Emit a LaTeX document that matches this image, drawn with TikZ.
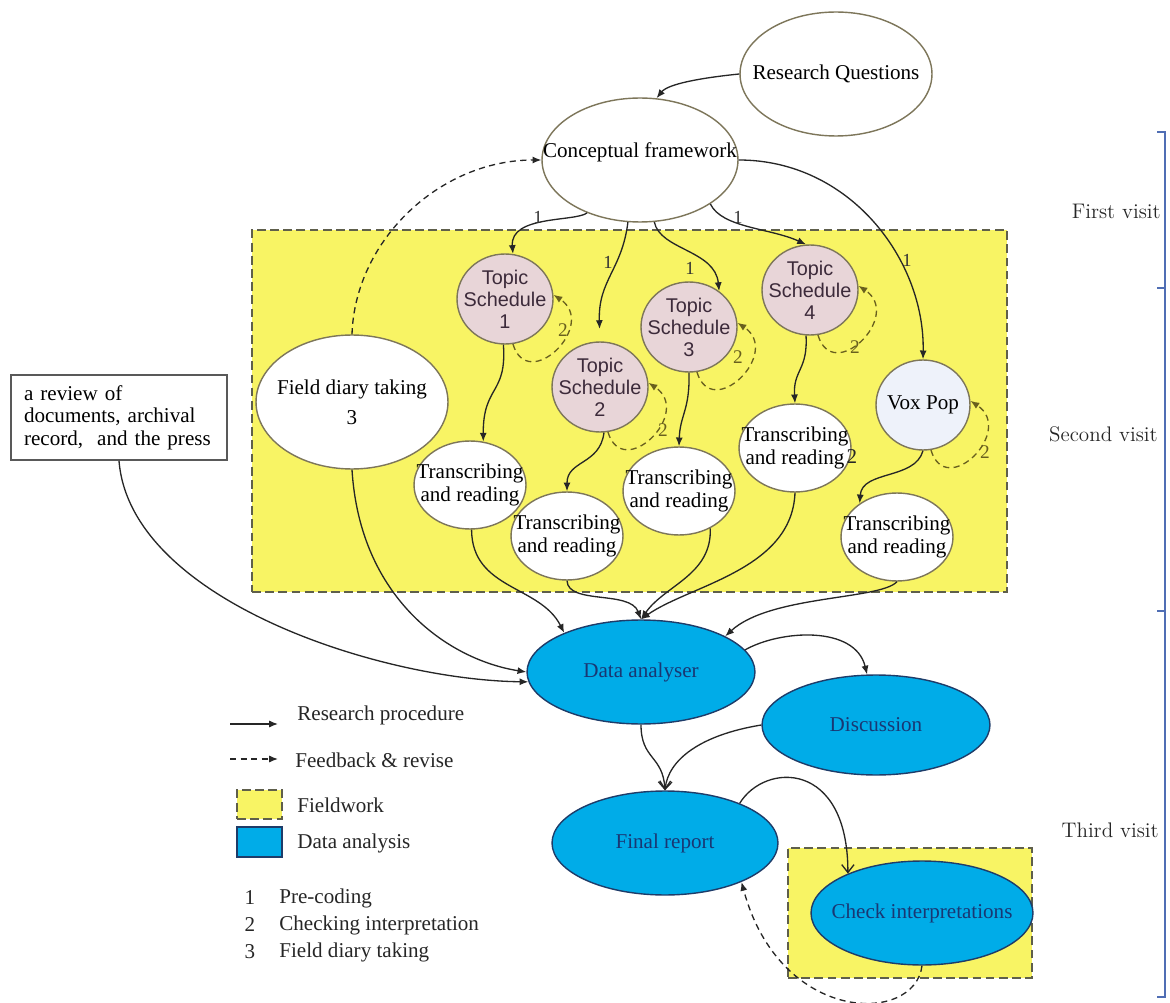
\documentclass[tikz,border=0pt]{standalone}
\usepackage{fontspec}
\newfontfamily\nodeserif{Liberation Serif}
\newfontfamily\nodesans{Liberation Sans}
\usetikzlibrary{arrows.meta,shapes.geometric}
\definecolor{rsedge}{RGB}{38,38,38}
\definecolor{rsrim}{RGB}{125,118,90}
\definecolor{rstopic}{RGB}{232,213,216}
\definecolor{rstopictxt}{RGB}{60,42,58}
\definecolor{rsvox}{RGB}{238,242,250}
\definecolor{rsfield}{RGB}{248,244,100}
\definecolor{rsfieldrim}{RGB}{95,95,75}
\definecolor{rsdata}{RGB}{0,172,232}
\definecolor{rsdatarim}{RGB}{30,60,105}
\definecolor{rsdatatxt}{RGB}{25,55,115}
\definecolor{rsloop}{RGB}{105,96,30}
\definecolor{rsvisit}{RGB}{80,110,180}
\tikzset{
  rsell/.style={
    ellipse, draw=rsrim, line width=0.8pt, inner sep=-20pt, align=center,
    font=\nodeserif\fontsize{12}{12.8}\selectfont
  },
  whiteell/.style={rsell, fill=white, minimum width=3.84cm, minimum height=2.48cm},
  topicell/.style={
    rsell, fill=rstopic, text=rstopictxt, minimum width=1.92cm, minimum height=1.8cm,
    font=\nodesans\fontsize{11.3}{12.5}\selectfont
  },
  voxell/.style={rsell, fill=rsvox, minimum width=1.88cm, minimum height=1.8cm},
  transell/.style={rsell, fill=white, minimum width=2.24cm, minimum height=1.76cm},
  dataell/.style={
    rsell, draw=rsdatarim, fill=rsdata, text=rsdatatxt,
    minimum width=4.56cm, minimum height=2.08cm
  },
  fieldbox/.style={draw=rsfieldrim, fill=rsfield, line width=1pt, dash pattern=on 5pt off 2.5pt},
  srcbox/.style={
    draw=black!65, fill=white, line width=0.9pt, align=left, text width=3.8cm,
    inner xsep=0.26cm, minimum height=1.7cm, font=\nodeserif\fontsize{12}{12.8}\selectfont
  },
  arr/.style={-{Latex[length=5pt,width=4pt]}, draw=rsedge, line width=0.75pt},
  fb/.style={arr, dash pattern=on 3.5pt off 2.5pt},
  barb/.style={-{Straight Barb[length=4.5pt,width=7pt]}, draw=rsedge, line width=0.75pt},
  loopback/.style={fb, draw=rsloop},
  onelbl/.style={font=\nodeserif\fontsize{10.5}{12}\selectfont, text=black!80, inner sep=1pt},
  twolbl/.style={onelbl, text=rsloop, font=\nodeserif\fontsize{11}{12}\selectfont},
  legtxt/.style={anchor=west, inner sep=0pt, font=\nodeserif\fontsize{12}{14}\selectfont, text=black!85},
  visit/.style={anchor=east, inner sep=0pt, font=\fontsize{12}{14}\selectfont, text=black!85},
  visitline/.style={draw=rsvisit, line width=1.2pt}
}
\begin{document}
\begin{tikzpicture}[x=0.02cm, y=-0.02cm]
  \path[use as bounding box, fill=white] (0,0) rectangle (1170,1003);
  % fieldwork areas
  \node[fieldbox, minimum width=15.1cm, minimum height=7.24cm] (field) at (629.5,411) {};
  \node[fieldbox, minimum width=4.88cm, minimum height=2.6cm] (checkfield) at (910,913) {};
  % first visit
  \node[whiteell] (rq) at (836,74) {Research Questions};
  \node[whiteell, minimum width=3.92cm, text height=8.5pt, text depth=11.5pt] (cf) at (640,160) {Conceptual framework};
  % second visit
  \node[whiteell, minimum height=2.68cm, text height=25.7pt] (fd) at (352,402) {Field diary taking\\[4.2pt]3};
  \node[topicell] (ts1) at (505,299) {Topic\\Schedule\\1};
  \node[topicell] (ts2) at (600,387) {Topic\\Schedule\\2};
  \node[topicell] (ts3) at (689,327) {Topic\\Schedule\\3};
  \node[topicell] (ts4) at (810,290) {Topic\\Schedule\\4};
  \node[voxell] (vp) at (923,405) {Vox Pop};
  \node[transell] (tr1) at (470,485) {Transcribing\\and reading};
  \node[transell] (tr2) at (567,536) {Transcribing\\and reading};
  \node[transell] (tr3) at (679,491) {Transcribing\\and reading};
  \node[transell] (tr4) at (795,448) {Transcribing\\and reading};
  \node[transell] (tr5) at (897,537) {Transcribing\\and reading};
  \node[onelbl, text=black!85, font=\nodeserif\fontsize{12}{12}\selectfont] (trstray) at (852,457) {2};
  \node[srcbox] (rev) at (119,417.5) {a review of\\documents, archival\\record,~ and the press};
  % third visit
  \node[dataell] (da) at (641,672) {Data analyser};
  \node[dataell, minimum height=2cm] (dis) at (876,725) {Discussion};
  \node[dataell, minimum width=4.52cm] (fr) at (665,843) {Final report};
  \node[dataell, minimum width=4.44cm] (ci) at (922,913) {Check interpretations};
  % research procedure
  \draw[arr] (rq.west) .. controls (700,78) and (668,84) .. (cf.75);
  \draw[fb] (fd.north) .. controls (355,240) and (440,160) .. (cf.west);
  \draw[arr] (cf.225) .. controls (575,222) and (510,215) .. (ts1.80);
  \draw[arr, shorten >=7pt] (cf.259) .. controls (622,270) and (598,280) .. (ts2.north);
  \draw[arr] (cf.-77) .. controls (660,250) and (715,250) .. (ts3.50);
  \draw[arr] (cf.-32) .. controls (722,228) and (770,228) .. (ts4.95);
  \draw[arr] (cf.east) .. controls (850,160) and (925,260) .. (vp.north);
  \foreach \x/\y [count=\i] in {538/217, 608/262, 690/268, 738/217, 907/260}
    \node[onelbl] (one\i) at (\x,\y) {1};
  \draw[arr] (ts1.-92) .. controls (507,395) and (483,385) .. (tr1.73);
  \draw[arr] (ts2.-85) .. controls (600,465) and (567,460) .. (tr2.north);
  \draw[arr] (ts3.south) .. controls (690,410) and (680,415) .. (tr3.north);
  \draw[arr] (ts4.-95) .. controls (808,370) and (793,370) .. (tr4.north);
  \draw[arr] (vp.south) .. controls (915,480) and (862,470) .. (tr5.138);
  % checking interpretation loops
  \foreach \n/\lx/\ly in {ts1/563/330, ts2/663/430, ts3/738/357, ts4/855/347, vp/985/452} {
    \draw[loopback] (\n.-80) .. controls +(15,50) and +(45,30) .. (\n.5);
    \node[twolbl] (\n two) at (\lx,\ly) {2};
  }
  % into the analysis
  \draw[arr] (rev.south) .. controls (130,600) and (380,680) .. (da.185);
  \draw[arr] (fd.south) .. controls (360,600) and (450,660) .. (da.west);
  \draw[arr] (tr1.-88) .. controls (472,590) and (540,585) .. (da.153);
  \draw[arr] (tr2.south) .. controls (568,605) and (630,590) .. (da.north);
  \draw[arr] (tr3.-50) .. controls (712,575) and (665,585) .. (da.north);
  \draw[arr] (tr4.south) .. controls (792,570) and (690,585) .. (da.north);
  \draw[arr] (tr5.south) .. controls (880,600) and (770,595) .. (da.23);
  \draw[arr] (da.12) .. controls (780,630) and (855,625) .. (dis.100);
  \draw[barb] (da.south) .. controls (641,760) and (663,755) .. (fr.north);
  \draw[barb] (dis.west) .. controls (700,735) and (668,760) .. (fr.north);
  \draw[barb] (fr.28) .. controls (765,762) and (848,760) .. (ci.152);
  \draw[fb] (ci.south) .. controls (915,1025) and (780,1025) .. (fr.-27);
  % legend
  \coordinate (lgs1) at (230,724);
  \coordinate (lgs2) at (278,724);
  \draw[arr] (lgs1) -- (lgs2);
  \node[legtxt] (lgproc) at (297,715) {Research procedure};
  \coordinate (lgd1) at (230,759);
  \coordinate (lgd2) at (278,759);
  \draw[fb] (lgd1) -- (lgd2);
  \node[legtxt] (lgfeed) at (295,760) {Feedback \& revise};
  \node[fieldbox, minimum width=0.9cm, minimum height=0.58cm, inner sep=0pt] (lgfield) at (259.5,804.5) {};
  \node[legtxt] (lgfieldt) at (297,805) {Fieldwork};
  \node[draw=rsdatarim, fill=rsdata, line width=0.9pt, minimum width=0.9cm, minimum height=0.6cm, inner sep=0pt] (lgdata) at (259.5,842) {};
  \node[legtxt] (lgdatat) at (297,843) {Data analysis};
  \foreach \k/\t [count=\i] in {1/Pre-coding, 2/Checking interpretation, 3/Field diary taking} {
    \node[legtxt, anchor=center] (code\i) at (250,871+27*\i) {\k};
    \node[legtxt] (codet\i) at (279,871+27*\i) {\t};
  }
  % visits
  \draw[visitline] (1157,132) -- (1165,132) -- (1165,997) -- (1157,997);
  \foreach \y in {288,611}
    \draw[visitline] (1157,\y) -- (1165,\y);
  \node[visit] (v1) at (1161,211) {First visit};
  \node[visit] (v2) at (1158,434) {Second visit};
  \node[visit] (v3) at (1159,830) {Third visit};
\end{tikzpicture}
\end{document}
